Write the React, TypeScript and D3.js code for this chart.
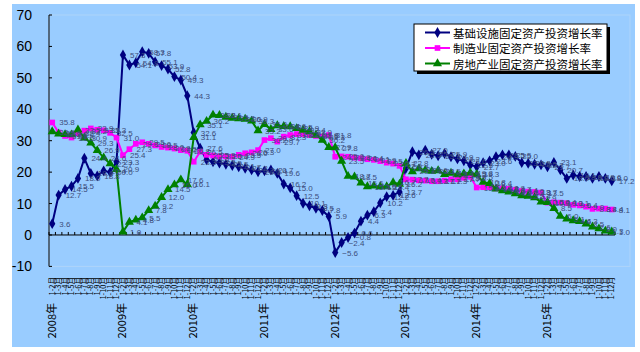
import React from 'react';
import * as d3 from 'd3';

// category levels
const years = ['2008年', '2009年', '2010年', '2011年', '2012年', '2013年', '2014年', '2015年'];
const months = ['1-2月', '1-3月', '1-4月', '1-5月', '1-6月', '1-7月', '1-8月', '1-9月', '1-10月', '1-11月', '1-12月'];

// 基础设施固定资产投资增长率
const infra = [
  3.6, 12.7, 14.5, 15.5, 18.0, 24.4, 19.6, 18.8, 20.4, 20.0, 23.3,
  57.3, 54.1, 54.8, 58.3, 57.8, 55.1, 53.9, 52.8, 50.4, 49.3, 44.3,
  32.6, 27.6, 23.9, 23.3, 22.9, 22.5, 22.1, 21.7, 21.2, 20.7, 20.1,
  20.4, 20.7, 19.6, 16.2, 15.0, 12.5, 10.1, 9.3, 8.5, 7.8, 5.9,
  -5.6, -2.4, -0.8, 0.6, 4.4, 6.3, 7.4, 10.2, 12.2, 12.6, 13.7,
  21.2, 26.5, 25.5, 27.0, 25.7, 25.2, 25.9, 24.9, 24.2, 23.6, 22.3,
  21.7, 23.0, 23.6, 24.9, 25.5, 25.5, 25.0, 23.0, 22.8, 22.5, 22.3,
  21.7, 23.1, 20.7, 18.0, 19.1, 18.6, 18.6, 18.0, 18.6, 18.0, 17.2,
];

// 制造业固定资产投资增长率
const manuf = [
  35.8, 32.6, 31.5, 31.0, 32.4, 33.2, 33.9, 33.5, 33.3, 32.5, 31.0,
  25.4, 27.3, 29.0, 29.5, 29.0, 28.5, 28.0, 27.8, 27.5, 27.0, 26.8,
  23.3, 26.5, 25.5, 25.3, 25.0, 25.0, 24.9, 25.5, 26.0, 26.3, 27.0,
  30.2, 30.8, 29.7, 31.3, 31.8, 32.1, 32.1, 31.8, 31.5, 31.3, 31.8,
  24.9, 25.0, 24.9, 24.6, 24.4, 24.1, 23.9, 23.5, 23.0, 22.7, 22.0,
  17.7, 17.6, 17.4, 17.3, 17.1, 17.1, 17.3, 17.7, 17.7, 18.2, 18.5,
  15.1, 15.2, 15.2, 14.8, 14.8, 14.7, 14.4, 14.0, 13.8, 13.7, 13.5,
  10.3, 10.4, 10.3, 10.1, 9.6, 9.4, 9.0, 8.3, 8.4, 8.4, 8.1,
];

// 房地产业固定资产投资增长率
const estate = [
  32.9, 32.2, 32.0, 31.9, 33.5, 30.9, 29.3, 26.9, 24.6, 22.7, 20.9,
  1.0, 4.1, 4.8, 5.5, 7.8, 9.2, 12.0, 14.5, 16.0, 17.6, 16.1,
  31.1, 35.1, 36.2, 38.2, 38.1, 37.5, 37.2, 37.0, 36.9, 36.3, 33.2,
  35.2, 33.6, 34.8, 34.6, 34.5, 33.9, 33.4, 32.9, 31.8, 30.2, 27.9,
  27.8, 23.5, 18.7, 18.5, 16.6, 15.4, 15.6, 15.4, 15.4, 16.7, 16.2,
  22.8, 20.2, 21.1, 20.6, 20.3, 20.5, 19.3, 19.7, 19.2, 19.5, 19.8,
  19.3, 16.8, 16.4, 14.7, 14.1, 13.7, 13.2, 12.5, 12.4, 11.9, 10.5,
  10.4, 8.5, 6.0, 5.1, 4.6, 4.3, 3.5, 2.6, 2.0, 1.3, 1.0,
];

const yTicks = [-10, 0, 10, 20, 30, 40, 50, 60, 70];

const series = [
  { name: '基础设施固定资产投资增长率', values: infra, color: '#000080', symbol: d3.symbolDiamond, size: 34 },
  { name: '制造业固定资产投资增长率', values: manuf, color: '#ff00ff', symbol: d3.symbolSquare, size: 32 },
  { name: '房地产业固定资产投资增长率', values: estate, color: '#008000', symbol: d3.symbolTriangle, size: 36 },
];

const categories = years.flatMap((y) => months.map((m) => y + m));

const App = () => {
  const width = 640;
  const height = 352;

  const x = d3.scaleBand().domain(categories).range([49, 615]).padding(0);
  const bw = x.bandwidth();
  const cx = (i: number) => (x(categories[i]) as number) + bw / 2;
  const y = d3.scaleLinear().domain([-10, 70]).range([266.4, 15]);
  const fmt = d3.format('.1f');

  const line = d3.line<number>()
    .x((d, i) => cx(i))
    .y((d) => y(d));

  const axisFont = '"Liberation Sans", Arial, sans-serif';
  const cjkFont = '"Noto Sans CJK SC", "Noto Sans", sans-serif';

  return (
    <svg width={width} height={height} style={{ position: 'absolute', left: 0, top: 0, display: 'block' }}>
      <rect x={0} y={0} width={width} height={height} fill="#ffffff" />
      <rect x={12} y={4} width={623} height={343} fill="#99ccff" />
      {/* plot area border */}
      <rect x={49} y={15} width={581} height={251.4} fill="none" stroke="#aed4fa" strokeWidth={1} />

      {/* y axis */}
      <line x1={49} x2={49} y1={y(70)} y2={y(-10)} stroke="#000" strokeWidth={1} />
      {yTicks.map((t) => (
        <g key={t}>
          <line x1={49} x2={52} y1={y(t)} y2={y(t)} stroke="#000" />
          <text x={32} y={y(t)} textAnchor="end" dominantBaseline="central" fontSize={14} fontFamily={axisFont} fill="#000">
            {t}
          </text>
        </g>
      ))}

      {/* x axis at zero */}
      <line x1={49} x2={615} y1={y(0)} y2={y(0)} stroke="#000" strokeWidth={1} />
      {d3.range(categories.length + 1).map((i) => {
        const xx = 49 + i * bw;
        return <line key={i} x1={xx} x2={xx} y1={y(0)} y2={y(0) - 3} stroke="#000" />;
      })}

      {/* category labels */}
      {categories.map((c, i) => (
        <text
          key={c}
          transform={`translate(${cx(i) + 2.6},277) rotate(-90)`}
          textAnchor="end"
          fontSize={7.5}
          fontFamily={cjkFont}
          fill="#000"
        >
          {months[i % months.length]}
        </text>
      ))}
      {years.map((yr, k) => (
        <text
          key={yr}
          transform={`translate(${cx(k * months.length) + 3.5},303) rotate(-90)`}
          textAnchor="end"
          fontSize={11}
          fontFamily={cjkFont}
          fill="#000"
        >
          {yr}
        </text>
      ))}

      {/* series lines and markers */}
      {series.map((s) => (
        <g key={s.name}>
          <path d={line(s.values) || ''} fill="none" stroke={s.color} strokeWidth={2} />
          {s.values.map((v, i) => (
            <path
              key={i}
              transform={`translate(${cx(i)},${y(v)})`}
              d={d3.symbol().type(s.symbol).size(s.size)() || ''}
              fill={s.color}
            />
          ))}
        </g>
      ))}

      {/* data labels */}
      {series.map((s) => (
        <g key={s.name + '-lab'}>
          {s.values.map((v, i) => (
            <text
              key={i}
              x={cx(i) + 7}
              y={y(v) + 3}
              fontSize={8}
              fontFamily={axisFont}
              fill="#3c4c7c"
            >
              {fmt(v)}
            </text>
          ))}
        </g>
      ))}

      {/* legend */}
      <rect x={417} y={27} width={193} height={47} fill="#000" />
      <rect x={414} y={24} width={193} height={47} fill="#fff" stroke="#000" strokeWidth={1} />
      {series.map((s, k) => {
        const ly = 32.5 + k * 15.5;
        return (
          <g key={s.name + '-leg'}>
            <line x1={425} x2={450} y1={ly} y2={ly} stroke={s.color} strokeWidth={2} />
            <path transform={`translate(437.5,${ly})`} d={d3.symbol().type(s.symbol).size(s.size)() || ''} fill={s.color} />
            <text x={453} y={ly} dominantBaseline="central" fontSize={11.5} fontFamily={cjkFont} fill="#000">
              {s.name}
            </text>
          </g>
        );
      })}
    </svg>
  );
};

export default App;
